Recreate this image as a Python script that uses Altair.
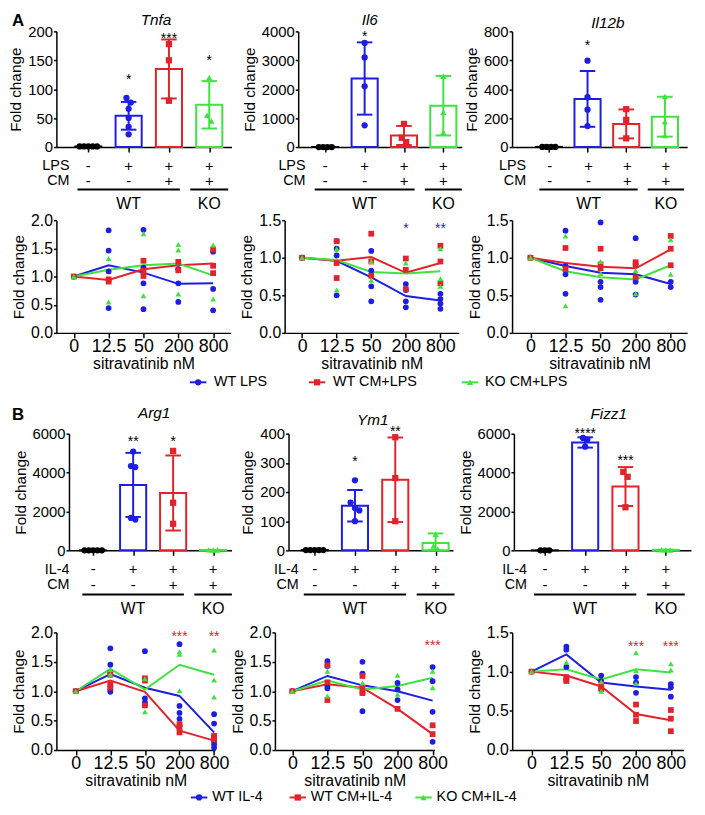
import altair as alt
import pandas as pd

# ---------------------------------------------------------------- data
GROUP_KEYS = ["ctrl", "wt", "wtcm", "ko"]
LINE_KEYS = ["wt", "wtcm", "ko"]
X_CATS = ["0", "12.5", "50", "200", "800"]

# ---- panel A, bar charts (individual points, mean, SD, significance)
TNFA_PTS = [[1, 1, 1, 1, 1], [85, 77, 66, 50, 35, 22], [178, 150, 80], [120, 55, 45]]
TNFA_MEAN = [1, 54, 135, 73]
TNFA_SD = [0.5, 24, 51, 41]
TNFA_STARS = ["", "*", "***", "*"]
TNFA_STAR_Y = [0, 123, 194, 156]

IL6_PTS = [[1, 1, 1, 1], [3600, 3100, 2100, 750], [800, 320, 170], [2450, 1200, 500]]
IL6_MEAN = [1, 2370, 400, 1430]
IL6_SD = [5, 1250, 330, 1030]
IL6_STARS = ["", "*", "", ""]
IL6_STAR_Y = [0, 3945, 0, 0]

IL12B_PTS = [[1, 1, 1, 1], [597, 345, 258, 145], [262, 188, 60], [350, 175, 80]]
IL12B_MEAN = [1, 333, 160, 210]
IL12B_SD = [1, 193, 100, 138]
IL12B_STARS = ["", "*", "", ""]
IL12B_STAR_Y = [0, 729, 0, 0]

# ---- panel B, bar charts
ARG1_PTS = [[1, 1, 1, 1, 1], [5083, 4333, 4283, 1667, 1583], [5117, 2450, 1367], [25, 15, 20]]
ARG1_MEAN = [1, 3367, 2950, 20]
ARG1_SD = [1, 1650, 1930, 5]
ARG1_STARS = ["", "**", "*", ""]
ARG1_STAR_Y = [0, 5783, 5783, 0]

YM1_PTS = [[1, 1, 1, 1, 1], [240, 164, 145, 137, 100], [388, 248, 100], [55, 15, 5]]
YM1_MEAN = [1, 153, 242, 25]
YM1_SD = [0.5, 54, 145, 33]
YM1_STARS = ["", "*", "**", ""]
YM1_STAR_Y = [0, 315, 419, 0]

FIZZ1_PTS = [[1, 1, 1], [5783, 5700, 5333], [4033, 3783, 2217], [30, 20, 25]]
FIZZ1_MEAN = [1, 5550, 3283, 25]
FIZZ1_SD = [1, 265, 1000, 5]
FIZZ1_STARS = ["", "****", "***", ""]
FIZZ1_STAR_Y = [0, 6200, 4800, 0]

# ---- sitravatinib dose curves (points per dose, line = group mean)
TNFA_L_WT = [[1.0], [1.82, 1.46, 1.09, 0.44], [1.83, 1.16, 0.88, 0.42], [1.13, 0.88, 0.55], [1.44, 0.78, 0.40]]
TNFA_L_WTCM = [[1.0], [0.95, 0.91], [1.28, 1.01, 1.10], [1.26, 1.11], [1.48, 1.19, 1.06]]
TNFA_L_KO = [[1.0], [1.32, 0.55], [1.76, 0.66], [1.57, 1.47, 0.69], [1.56, 0.60]]
TNFA_M_WT = [1.0, 1.20, 1.07, 0.87, 0.88]
TNFA_M_WTCM = [1.0, 0.94, 1.13, 1.20, 1.23]
TNFA_M_KO = [1.0, 1.12, 1.20, 1.23, 1.02]
TNFA_L_STARS = []

IL6_L_WT = [[1.0], [1.22, 1.12, 1.03, 0.50], [1.09, 0.83, 0.62, 0.42], [0.65, 0.57, 0.42, 0.34], [0.52, 0.45, 0.39, 0.32]]
IL6_L_WTCM = [[1.0], [1.22, 0.93, 0.73], [1.32, 0.95, 0.76], [0.99, 0.84, 0.58], [1.16, 0.95, 0.66]]
IL6_L_KO = [[1.0], [1.12, 0.57], [0.95, 0.70], [0.93], [1.12, 0.72, 0.62]]
IL6_M_WT = [1.0, 0.96, 0.74, 0.49, 0.43]
IL6_M_WTCM = [1.0, 0.96, 1.01, 0.80, 0.93]
IL6_M_KO = [1.0, 0.97, 0.81, 0.79, 0.82]
IL6_L_STARS = [("200", "*", "wt", 1.43), ("800", "**", "wt", 1.43)]

IL12B_L_WT = [[1.0], [1.36, 0.89, 0.78, 0.52], [1.47, 0.68, 0.61, 0.44], [1.26, 0.68, 0.51], [0.68, 0.61]]
IL12B_L_WTCM = [[1.0], [1.13, 0.85], [1.12, 0.91, 0.86], [0.94, 0.90, 0.74], [1.29, 1.12, 0.90]]
IL12B_L_KO = [[1.0], [1.29, 0.36], [0.95, 0.79], [0.83, 0.52], [1.24, 0.78]]
IL12B_M_WT = [1.0, 0.89, 0.80, 0.78, 0.65]
IL12B_M_WTCM = [1.0, 0.93, 0.88, 0.86, 1.11]
IL12B_M_KO = [1.0, 0.82, 0.74, 0.71, 0.90]
IL12B_L_STARS = []

ARG1_L_WT = [[1.0], [1.73, 1.45, 1.32, 1.02, 0.99], [1.68, 0.88, 0.81, 0.76], [1.80, 0.75, 0.63, 0.53, 0.41], [0.61, 0.45, 0.15, 0.10, 0.04]]
ARG1_L_WTCM = [[1.0], [1.28, 1.11, 1.06], [1.22, 1.18, 0.76], [0.44, 0.38, 0.30], [0.24, 0.21, 0.18]]
ARG1_L_KO = [[1.0], [1.37, 1.29], [1.21, 0.65], [1.67, 1.63, 1.01], [1.70, 1.19, 0.90]]
ARG1_M_WT = [1.0, 1.29, 1.06, 0.92, 0.30]
ARG1_M_WTCM = [1.0, 1.18, 0.99, 0.33, 0.16]
ARG1_M_KO = [1.0, 1.38, 1.03, 1.45, 1.28]
ARG1_L_STARS = [("200", "***", "wtcm", 1.99), ("800", "**", "wtcm", 1.99)]

YM1_L_WT = [[1.0], [1.51, 1.43, 1.09, 1.05], [1.50, 1.30, 0.97, 0.66], [1.14, 1.03, 0.85], [1.41, 1.17, 0.65, 0.14]]
YM1_L_WTCM = [[1.0], [1.44, 1.15, 0.85], [1.26, 1.06, 0.97], [0.70], [0.42, 0.27]]
YM1_L_KO = [[1.0], [1.34, 0.92], [1.14], [1.27, 0.95], [1.34, 1.06]]
YM1_M_WT = [1.0, 1.26, 1.10, 1.00, 0.84]
YM1_M_WTCM = [1.0, 1.12, 1.06, 0.70, 0.27]
YM1_M_KO = [1.0, 1.18, 1.03, 1.09, 1.23]
YM1_L_STARS = [("800", "***", "wtcm", 1.83)]

FIZZ1_L_WT = [[1.0], [1.32, 1.28, 1.06], [0.95, 0.88, 0.78], [0.93, 0.86, 0.73], [0.84, 0.80, 0.68]]
FIZZ1_L_WTCM = [[1.0], [0.93, 0.90, 0.88], [0.84, 0.78], [0.58, 0.45, 0.37], [0.51, 0.40, 0.24]]
FIZZ1_L_KO = [[1.0], [1.12], [0.87, 0.75], [1.24, 1.01, 0.85], [1.10, 1.02]]
FIZZ1_M_WT = [1.0, 1.22, 0.86, 0.81, 0.77]
FIZZ1_M_WTCM = [1.0, 0.95, 0.81, 0.46, 0.38]
FIZZ1_M_KO = [1.0, 1.03, 0.90, 1.03, 0.99]
FIZZ1_L_STARS = [("200", "***", "wtcm", 1.36), ("800", "***", "wtcm", 1.36)]

# ---- treatment table / legends
SIGNS_STIM = ["-", "+", "+", "+"]
SIGNS_CM = ["-", "-", "+", "+"]
GENOS = ["WT", "KO"]
GENO_FIRST = [0, 3]
GENO_LAST = [2, 3]
LEGEND_A_LABELS = ["WT LPS", "WT CM+LPS", "KO CM+LPS"]
LEGEND_B_LABELS = ["WT IL-4", "WT CM+IL-4", "KO CM+IL-4"]

# ---------------------------------------------------------------- style / layout
FONT = "Liberation Sans"
COLORS = {"ctrl": "#000000", "wt": "#1d1de3", "wtcm": "#e3232b", "ko": "#3fe33f"}
SHAPES = {"ctrl": "circle", "wt": "circle", "wtcm": "square", "ko": "triangle-up"}
color_scale = alt.Scale(domain=GROUP_KEYS, range=[COLORS[k] for k in GROUP_KEYS])
shape_scale = alt.Scale(domain=GROUP_KEYS, range=[SHAPES[k] for k in GROUP_KEYS])

AX = dict(labelFont=FONT, titleFont=FONT, labelColor="black", titleColor="black",
          domainColor="black", tickColor="black", domainWidth=1.5, tickWidth=1.5,
          titleFontWeight="normal", grid=False)

X0 = 0.0                      # left edge of the reference layout grid
KX = 689.0 / (704.0 - X0)     # horizontal squeeze of the reference layout


def sx(v):
    return v * KX


BAR_HALF = 13.5   # px
CAP_HALF = 8.0
JITTER = 4.5
CLUSTER_PX = 6.0

BAR_A_COLS = [0, 231, 468]
BAR_A_LAY = [
    dict(axis=49, right=230, c0=82, c3=207, tx=152, tgap=11, lab_r=62),
    dict(axis=298, right=467, c0=326, c3=448, tx=372, tgap=11, lab_r=305),
    dict(axis=519, right=700, c0=557, c3=677, tx=618, tgap=8, lab_r=532),
]
BAR_B_COLS = [0, 231, 462]
BAR_B_LAY = [
    dict(axis=62, right=230, c0=87, c3=211, tx=150, tgap=21, lab_r=62),
    dict(axis=288, right=458, c0=315, c3=440, tx=375, tgap=14, lab_r=298),
    dict(axis=520, right=703, c0=552, c3=677, tx=618, tgap=20, lab_r=533),
]
LINE_A_COLS = [0, 231, 468]
LINE_A_LAY = [
    dict(axis=49, right=229, first=67, last=211),
    dict(axis=284, right=464, first=302, last=445),
    dict(axis=519, right=700, first=538, last=683),
]
LINE_B_COLS = [0, 224, 468]
LINE_B_LAY = [
    dict(axis=49, right=213, first=69, last=212),
    dict(axis=270, right=435, first=288, last=433),
    dict(axis=513, right=690, first=533, last=677),
]
LEG_A_MARK = [195.5, 318.5, 476.5]
LEG_A_TEXT = [212, 335, 492]
LEG_B_MARK = [196.5, 298.5, 428.5]
LEG_B_TEXT = [210, 312, 442]

ROW_STIM, ROW_CM, ROW_LINE, ROW_GENO = 0.0, 1.0, 1.6, 2.55
GENO_PAD = [0.27, 0.47]


def cell_widths(cols):
    ends = cols[1:] + [704]
    return [sx(e - c) for c, e in zip(cols, ends)]


def bar_xscale(lay, L):
    ax = sx(lay["axis"] - L)
    rx = sx(lay["right"] - L)
    c0 = sx(lay["c0"] - L)
    c3 = sx(lay["c3"] - L)
    step = (c3 - c0) / 3.0
    d0 = (ax - c0) / step
    d1 = (rx - c0) / step
    return alt.Scale(domain=[d0, d1], range=[ax, rx], nice=False, zero=False), step, ax


def label_layer(text, x, y, size, weight="normal", style="normal", align="center"):
    return alt.Chart(pd.DataFrame({"t": [text]})).mark_text(
        align=align, baseline="middle", fontSize=size, fontWeight=weight, fontStyle=style,
        color="black", font=FONT).encode(x=alt.value(x), y=alt.value(y), text="t:N")


def bar_panel(gene, pts, means, sds, stars, star_y, ymax, ystep, lay, L, cw, height,
              letter=None, letter_y=-13):
    xs, step, ax = bar_xscale(lay, L)
    ys = alt.Scale(domain=[0, ymax], nice=False, zero=True)
    half = sx(BAR_HALF) / step
    cap = sx(CAP_HALF) / step
    jit = sx(JITTER) / step

    rows = []
    for g, key in enumerate(GROUP_KEYS):
        m, s = means[g], sds[g]
        rows.append(dict(key=key, g=g, mean=m, lo=max(0.0, m - s), hi=m + s, base=0,
                         x1=g - half, x2=g + half, c1=g - cap, c2=g + cap))
    bdf = pd.DataFrame(rows)

    prow = []
    pxu = height / float(ymax)
    for g, key in enumerate(GROUP_KEYS):
        vals = sorted(pts[g], reverse=True)
        clusters = []
        for v in vals:
            if clusters and (clusters[-1][-1] - v) * pxu < CLUSTER_PX:
                clusters[-1].append(v)
            else:
                clusters.append([v])
        for cl in clusters:
            k = len(cl)
            for i, v in enumerate(cl):
                prow.append(dict(key=key, v=v, xj=g + (i - (k - 1) / 2.0) * jit))
    pdf = pd.DataFrame(prow)

    xaxis = alt.Axis(values=[0, 1, 2, 3], labels=False, title=None, tickSize=5, **AX)
    yaxis = alt.Axis(values=list(range(0, ymax + 1, ystep)), title="Fold change",
                     tickSize=3, labelPadding=1, titlePadding=4, labelFontSize=15,
                     titleFontSize=15.5, offset=-ax, format="d", **AX)
    col = alt.Color("key:N", scale=color_scale, legend=None)

    def X(f):
        return alt.X(f, scale=xs, axis=xaxis)

    def Y(f):
        return alt.Y(f, scale=ys, axis=yaxis)

    bars = alt.Chart(bdf).mark_rect(fill="white", strokeWidth=2).encode(
        x=X("x1:Q"), x2="x2:Q", y=Y("mean:Q"), y2="base:Q",
        stroke=alt.Stroke("key:N", scale=color_scale, legend=None))
    err = alt.Chart(bdf).mark_rule(strokeWidth=2).encode(
        x=X("g:Q"), y=Y("lo:Q"), y2="hi:Q", color=col)
    cap_hi = alt.Chart(bdf).mark_rule(strokeWidth=2).encode(
        x=X("c1:Q"), x2="c2:Q", y=Y("hi:Q"), color=col)
    cap_lo = alt.Chart(bdf).mark_rule(strokeWidth=2).encode(
        x=X("c1:Q"), x2="c2:Q", y=Y("lo:Q"), color=col)
    points = alt.Chart(pdf).mark_point(filled=True, size=40, opacity=1).encode(
        x=X("xj:Q"), y=Y("v:Q"), color=col,
        shape=alt.Shape("key:N", scale=shape_scale, legend=None))
    layers = [bars, err, cap_hi, cap_lo, points]

    srows = [dict(g=g, t=t, y=y) for g, (t, y) in enumerate(zip(stars, star_y)) if t]
    if srows:
        layers.append(alt.Chart(pd.DataFrame(srows)).mark_text(
            fontSize=14, dy=4, color="black", font=FONT).encode(
            x=X("g:Q"), y=Y("y:Q"), text="t:N"))
    layers.append(label_layer(gene, sx(lay["tx"] - L), -lay["tgap"], 15.5, style="italic"))
    if letter:
        layers.append(label_layer(letter, sx(3 - L), letter_y, 17, weight="bold", align="left"))
    return alt.layer(*layers).properties(width=cw, height=height)


def table_panel(labels, lay, L, cw, px_unit, d0, d1):
    xs, step, ax = bar_xscale(lay, L)
    ys = alt.Scale(domain=[d0, d1], reverse=True, nice=False, zero=False)
    srows = []
    for g in range(4):
        srows.append(dict(g=g, r=ROW_STIM, s=SIGNS_STIM[g]))
        srows.append(dict(g=g, r=ROW_CM, s=SIGNS_CM[g]))
    sdf = pd.DataFrame(srows)
    grows = []
    for name, a, b, pad in zip(GENOS, GENO_FIRST, GENO_LAST, GENO_PAD):
        grows.append(dict(name=name, x1=a - pad, x2=b + pad, xc=(a + b) / 2.0,
                          rl=ROW_LINE, rg=ROW_GENO))
    gdf = pd.DataFrame(grows)
    lab_expr = "datum.value == 0 ? '%s' : (datum.value == 1 ? '%s' : '')" % (labels[0], labels[1])
    yaxis = alt.Axis(values=[0, 1], labelExpr=lab_expr, domain=False, ticks=False, tickSize=0,
                     title=None, labelFontSize=14.5, labelPadding=0,
                     offset=-sx(lay["lab_r"] - L), labelFont=FONT, labelColor="black", grid=False)
    signs = alt.Chart(sdf).mark_text(fontSize=15, color="black", font=FONT).encode(
        x=alt.X("g:Q", scale=xs, axis=None), y=alt.Y("r:Q", scale=ys, axis=yaxis), text="s:N")
    rules = alt.Chart(gdf).mark_rule(strokeWidth=2, color="black").encode(
        x=alt.X("x1:Q", scale=xs, axis=None), x2="x2:Q", y=alt.Y("rl:Q", scale=ys, axis=yaxis))
    geno = alt.Chart(gdf).mark_text(fontSize=16, color="black", font=FONT).encode(
        x=alt.X("xc:Q", scale=xs, axis=None), y=alt.Y("rg:Q", scale=ys, axis=yaxis),
        text="name:N")
    return alt.layer(signs, rules, geno).properties(width=cw, height=(d1 - d0) * px_unit)


def line_panel(series_pts, series_means, stars, ymax, lay, L, cw, height):
    ax = sx(lay["axis"] - L)
    rx = sx(lay["right"] - L)
    R = lay["right"] - lay["axis"]
    S = lay["last"] - lay["first"]
    step = S / 4.0
    outer = R - S
    pad = outer / (2.0 * step)
    align = (lay["first"] - lay["axis"]) / float(outer)
    xs = alt.Scale(type="point", domain=X_CATS, range=[ax, rx], padding=pad, align=align)
    ys = alt.Scale(domain=[0, ymax], nice=False, zero=True)
    nt = int(round(ymax / 0.5))
    yaxis = alt.Axis(values=[i * 0.5 for i in range(nt + 1)], format=".1f", title="Fold change",
                     tickSize=3, labelPadding=1, titlePadding=4, labelFontSize=16,
                     titleFontSize=15.5, offset=-ax, **AX)
    xaxis = alt.Axis(title="sitravatinib nM", labelAngle=0, tickSize=5, labelFontSize=18,
                     titleFontSize=16, labelPadding=0, titlePadding=0, **AX)

    def X():
        return alt.X("xc:N", scale=xs, axis=xaxis, sort=X_CATS)

    prow, mrow = [], []
    for key in LINE_KEYS:
        for xi, (xc, vals) in enumerate(zip(X_CATS, series_pts[key])):
            for v in vals:
                prow.append(dict(key=key, xc=xc, xi=xi, v=v))
        for xi, (xc, m) in enumerate(zip(X_CATS, series_means[key])):
            mrow.append(dict(key=key, xc=xc, xi=xi, m=m))
    col = alt.Color("key:N", scale=color_scale, legend=None)
    lines = alt.Chart(pd.DataFrame(mrow)).mark_line(strokeWidth=2).encode(
        x=X(), y=alt.Y("m:Q", scale=ys, axis=yaxis), color=col, order="xi:Q")
    points = alt.Chart(pd.DataFrame(prow)).mark_point(filled=True, size=34, opacity=1).encode(
        x=X(), y=alt.Y("v:Q", scale=ys, axis=yaxis), color=col,
        shape=alt.Shape("key:N", scale=shape_scale, legend=None))
    layers = [lines, points]
    if stars:
        sdf = pd.DataFrame([dict(xc=a, t=b, key=c, y=d) for a, b, c, d in stars])
        layers.append(alt.Chart(sdf).mark_text(fontSize=14, dy=4, font=FONT).encode(
            x=X(), y=alt.Y("y:Q", scale=ys, axis=yaxis), text="t:N", color=col))
    return alt.layer(*layers).properties(width=cw, height=height)


def legend_chart(labels, mark_x, text_x, width, height, item_y):
    rows = []
    for key, lab, mx, tx in zip(LINE_KEYS, labels, mark_x, text_x):
        rows.append(dict(key=key, label=lab, mx=sx(mx - X0), x1=sx(mx - 8.5 - X0),
                         x2=sx(mx + 8.5 - X0), tx=sx(tx - X0)))
    df = pd.DataFrame(rows)
    col = alt.Color("key:N", scale=color_scale, legend=None)
    seg = alt.Chart(df).mark_rule(strokeWidth=2).encode(
        x=alt.X("x1:Q", scale=None, axis=None), x2="x2:Q", y=alt.value(item_y), color=col)
    mk = alt.Chart(df).mark_point(filled=True, size=40, opacity=1).encode(
        x=alt.X("mx:Q", scale=None, axis=None), y=alt.value(item_y), color=col,
        shape=alt.Shape("key:N", scale=shape_scale, legend=None))
    tx = alt.Chart(df).mark_text(align="left", baseline="middle", fontSize=14.5,
                                 color="black", font=FONT).encode(
        x=alt.X("tx:Q", scale=None, axis=None), y=alt.value(item_y), text="label:N")
    return alt.layer(seg, mk, tx).properties(width=width, height=height)


# ---------------------------------------------------------------- assemble
H_BAR_A, H_LINE_A, H_BAR_B, H_LINE_B = 117, 114, 118, 119

wA = cell_widths(BAR_A_COLS)
bar_specs_A = [
    ("Tnfa", TNFA_PTS, TNFA_MEAN, TNFA_SD, TNFA_STARS, TNFA_STAR_Y, 200, 50),
    ("Il6", IL6_PTS, IL6_MEAN, IL6_SD, IL6_STARS, IL6_STAR_Y, 4000, 1000),
    ("Il12b", IL12B_PTS, IL12B_MEAN, IL12B_SD, IL12B_STARS, IL12B_STAR_Y, 800, 200),
]
row_bar_A = alt.hconcat(*[
    bar_panel(*spec, lay=BAR_A_LAY[i], L=BAR_A_COLS[i], cw=wA[i], height=H_BAR_A,
              letter="A" if i == 0 else None, letter_y=-10)
    for i, spec in enumerate(bar_specs_A)], spacing=0)
row_tab_A = alt.hconcat(*[
    table_panel(["LPS", "CM"], BAR_A_LAY[i], BAR_A_COLS[i], wA[i], 15, -0.733, 2.867)
    for i in range(3)], spacing=0)

wLA = cell_widths(LINE_A_COLS)
line_specs_A = [
    ({"wt": TNFA_L_WT, "wtcm": TNFA_L_WTCM, "ko": TNFA_L_KO},
     {"wt": TNFA_M_WT, "wtcm": TNFA_M_WTCM, "ko": TNFA_M_KO}, TNFA_L_STARS, 2.0),
    ({"wt": IL6_L_WT, "wtcm": IL6_L_WTCM, "ko": IL6_L_KO},
     {"wt": IL6_M_WT, "wtcm": IL6_M_WTCM, "ko": IL6_M_KO}, IL6_L_STARS, 1.5),
    ({"wt": IL12B_L_WT, "wtcm": IL12B_L_WTCM, "ko": IL12B_L_KO},
     {"wt": IL12B_M_WT, "wtcm": IL12B_M_WTCM, "ko": IL12B_M_KO}, IL12B_L_STARS, 1.5),
]
row_line_A = alt.hconcat(*[
    line_panel(*spec, lay=LINE_A_LAY[i], L=LINE_A_COLS[i], cw=wLA[i], height=H_LINE_A)
    for i, spec in enumerate(line_specs_A)], spacing=0)

leg_A = legend_chart(LEGEND_A_LABELS, LEG_A_MARK, LEG_A_TEXT, sx(704 - X0), 35, 11)

wB = cell_widths(BAR_B_COLS)
bar_specs_B = [
    ("Arg1", ARG1_PTS, ARG1_MEAN, ARG1_SD, ARG1_STARS, ARG1_STAR_Y, 6000, 2000),
    ("Ym1", YM1_PTS, YM1_MEAN, YM1_SD, YM1_STARS, YM1_STAR_Y, 400, 100),
    ("Fizz1", FIZZ1_PTS, FIZZ1_MEAN, FIZZ1_SD, FIZZ1_STARS, FIZZ1_STAR_Y, 6000, 2000),
]
row_bar_B = alt.hconcat(*[
    bar_panel(*spec, lay=BAR_B_LAY[i], L=BAR_B_COLS[i], cw=wB[i], height=H_BAR_B,
              letter="B" if i == 0 else None, letter_y=-19)
    for i, spec in enumerate(bar_specs_B)], spacing=0)
row_tab_B = alt.hconcat(*[
    table_panel(["IL-4", "CM"], BAR_B_LAY[i], BAR_B_COLS[i], wB[i], 16, -0.6875, 3.44)
    for i in range(3)], spacing=0)

wLB = cell_widths(LINE_B_COLS)
line_specs_B = [
    ({"wt": ARG1_L_WT, "wtcm": ARG1_L_WTCM, "ko": ARG1_L_KO},
     {"wt": ARG1_M_WT, "wtcm": ARG1_M_WTCM, "ko": ARG1_M_KO}, ARG1_L_STARS, 2.0),
    ({"wt": YM1_L_WT, "wtcm": YM1_L_WTCM, "ko": YM1_L_KO},
     {"wt": YM1_M_WT, "wtcm": YM1_M_WTCM, "ko": YM1_M_KO}, YM1_L_STARS, 2.0),
    ({"wt": FIZZ1_L_WT, "wtcm": FIZZ1_L_WTCM, "ko": FIZZ1_L_KO},
     {"wt": FIZZ1_M_WT, "wtcm": FIZZ1_M_WTCM, "ko": FIZZ1_M_KO}, FIZZ1_L_STARS, 1.5),
]
row_line_B = alt.hconcat(*[
    line_panel(*spec, lay=LINE_B_LAY[i], L=LINE_B_COLS[i], cw=wLB[i], height=H_LINE_B)
    for i, spec in enumerate(line_specs_B)], spacing=0)

leg_B = legend_chart(LEGEND_B_LABELS, LEG_B_MARK, LEG_B_TEXT, sx(704 - X0), 16, 9)

chart = alt.vconcat(row_bar_A, row_tab_A, row_line_A, leg_A,
                    row_bar_B, row_tab_B, row_line_B, leg_B, spacing=0).properties(padding=0)
chart = chart.configure_view(stroke=None)

chart.save("out.html", embed_options={"renderer": "svg", "actions": False})
